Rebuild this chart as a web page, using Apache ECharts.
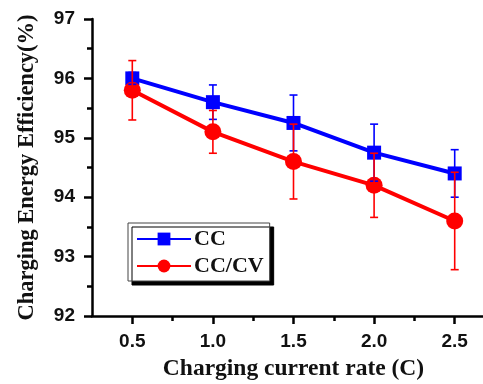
<!DOCTYPE html>
<html>
<head>
<meta charset="utf-8">
<script src="https://cdn.jsdelivr.net/npm/echarts@6/dist/echarts.min.js"></script>
<style>
  html, body { margin: 0; padding: 0; background: #fff; }
  #chart { width: 483px; height: 384px; }
</style>
</head>
<body>
<div id="chart"></div>
<script>
const rates = [0.5, 1.0, 1.5, 2.0, 2.5];
const minorRates = [0.75, 1.25, 1.75, 2.25];
const ccValues = [96.0, 95.6, 95.25, 94.75, 94.4];
const ccErrors = [0.1, 0.29, 0.47, 0.48, 0.4];
const cccvValues = [95.8, 95.1, 94.6, 94.2, 93.6];
const cccvErrors = [0.5, 0.36, 0.63, 0.54, 0.82];

const serif = "'Liberation Serif', 'Times New Roman', serif";
const sans = "'Liberation Sans', Arial, sans-serif";

const pairs = (xs, ys) => xs.map((x, i) => [x, ys[i]]);
const errRows = (xs, ys, es) => xs.map((x, i) => [x, ys[i] - es[i], ys[i] + es[i]]);

const errorSeries = (name, rows, color, z) => ({
  type: "custom",
  name: name + " err",
  data: rows,
  z: z,
  silent: true,
  renderItem: (params, api) => {
    const lo = api.coord([api.value(0), api.value(1)]);
    const hi = api.coord([api.value(0), api.value(2)]);
    const w = 4;
    const style = { stroke: color, lineWidth: 1.6 };
    return {
      type: "group",
      children: [
        { type: "line", shape: { x1: lo[0], y1: lo[1], x2: hi[0], y2: hi[1] }, style },
        { type: "line", shape: { x1: lo[0] - w, y1: lo[1], x2: lo[0] + w, y2: lo[1] }, style },
        { type: "line", shape: { x1: hi[0] - w, y1: hi[1], x2: hi[0] + w, y2: hi[1] }, style },
      ],
    };
  },
});

const tickStyle = { width: 2.5, color: "#000" };

const chart = echarts.init(document.getElementById("chart"));
chart.setOption({
  animation: false,
  backgroundColor: "#fff",
  grid: { left: 92, top: 19, bottom: 68, right: -12, outerBoundsMode: "none", containLabel: false },
  legend: {
    left: 128,
    top: 223,
    orient: "vertical",
    data: ["CC", "CC/CV"],
    itemWidth: 54,
    itemHeight: 16,
    itemGap: 5,
    padding: [5, 6, 4, 8],
    backgroundColor: "#fff",
    borderColor: "#444",
    borderWidth: 1,
    borderRadius: 0,
    shadowColor: "#000",
    shadowOffsetX: 4,
    shadowOffsetY: 4,
    shadowBlur: 0,
    textStyle: { fontFamily: serif, fontWeight: "bold", fontSize: 22, color: "#111", padding: [0, 0, 0, -2] },
  },
  xAxis: [
    {
      type: "value",
      min: 0.25,
      max: 2.75,
      name: "Charging current rate (C)",
      nameLocation: "middle",
      nameGap: 41,
      nameTextStyle: { fontFamily: serif, fontWeight: "bold", fontSize: 23.5, color: "#111" },
      axisLine: { lineStyle: { color: "#000", width: 2.5 } },
      axisTick: { show: true, length: 8, lineStyle: tickStyle, customValues: rates },
      axisLabel: {
        margin: 16,
        fontFamily: sans,
        fontWeight: "bold",
        fontSize: 19,
        color: "#111",
        customValues: rates,
        formatter: (v) => v.toFixed(1),
      },
      splitLine: { show: false },
    },
    {
      type: "value",
      min: 0.25,
      max: 2.75,
      position: "bottom",
      axisLine: { show: false },
      axisTick: { show: true, length: 5, lineStyle: tickStyle, customValues: minorRates },
      axisLabel: { show: false },
      splitLine: { show: false },
    },
  ],
  yAxis: {
    type: "value",
    min: 92,
    max: 97,
    interval: 1,
    name: "Charging Energy Efficiency(%)",
    nameLocation: "middle",
    nameGap: 53,
    nameTextStyle: { fontFamily: serif, fontWeight: "bold", fontSize: 22.5, color: "#111" },
    axisLine: { show: true, lineStyle: { color: "#000", width: 2.5 } },
    axisTick: { show: true, length: 8, lineStyle: tickStyle },
    minorTick: { show: true, splitNumber: 2, length: 5, lineStyle: tickStyle },
    axisLabel: { margin: 17, fontFamily: sans, fontWeight: "bold", fontSize: 19, color: "#111" },
    splitLine: { show: false },
  },
  series: [
    {
      name: "CC",
      type: "line",
      data: pairs(rates, ccValues),
      symbol: "rect",
      symbolSize: 14,
      color: "#0000ff",
      lineStyle: { width: 4, color: "#0000ff" },
      itemStyle: { color: "#0000ff" },
      z: 2,
    },
    {
      name: "CC/CV",
      type: "line",
      data: pairs(rates, cccvValues),
      symbol: "circle",
      symbolSize: 17,
      color: "#ff0000",
      lineStyle: { width: 4, color: "#ff0000" },
      itemStyle: { color: "#ff0000" },
      z: 3,
    },
    errorSeries("CC", errRows(rates, ccValues, ccErrors), "#0000ff", 4),
    errorSeries("CC/CV", errRows(rates, cccvValues, cccvErrors), "#ff0000", 5),
  ],
});
</script>
</body>
</html>
